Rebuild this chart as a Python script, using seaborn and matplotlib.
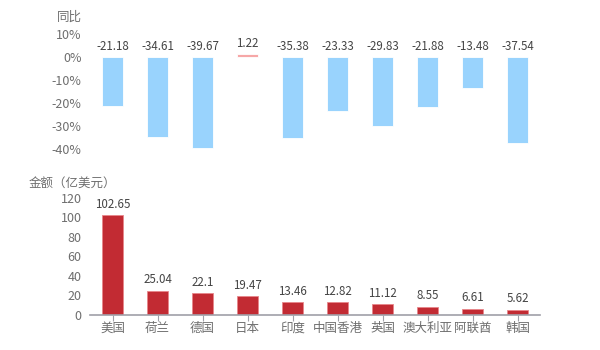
import matplotlib
matplotlib.use("Agg")
import matplotlib.pyplot as plt
import seaborn as sns
import pandas as pd

# data
countries = ["美国", "荷兰", "德国", "日本", "印度", "中国香港", "英国", "澳大利亚", "阿联酋", "韩国"]
yoy = [-21.18, -34.61, -39.67, 1.22, -35.38, -23.33, -29.83, -21.88, -13.48, -37.54]
amount = [102.65, 25.04, 22.1, 19.47, 13.46, 12.82, 11.12, 8.55, 6.61, 5.62]

sns.set_theme(style="white")
plt.rcParams['font.family'] = ['Noto Sans CJK SC', 'DejaVu Sans']

tick_color = "#6e6e6e"
label_color = "#444444"
blue = "#99d3fd"
pink = "#f6a7a7"
red = "#c22b33"

df = pd.DataFrame({"country": countries, "yoy": yoy, "amount": amount})

fig = plt.figure(figsize=(6, 3.5), dpi=100)
ax1 = fig.add_axes([0.15, 0.5743, 0.75, 0.3286])
ax2 = fig.add_axes([0.15, 0.10, 0.75, 0.3343])

# top: year-on-year change
top_colors = [pink if v > 0 else blue for v in yoy]
sns.barplot(data=df, x="country", y="yoy", hue="country", palette=top_colors,
            legend=False, width=0.45, saturation=1, ax=ax1,
            edgecolor="#ffffff", linewidth=0.6)
ax1.set_ylim(-40, 10)
ax1.set_xlim(-0.5, len(countries) - 0.5)
ax1.set_yticks([10, 0, -10, -20, -30, -40])
ax1.set_yticklabels([f"{t}%" for t in [10, 0, -10, -20, -30, -40]])
ax1.set_xticks([])
ax1.set_xlabel("")
ax1.set_ylabel("")
for s in ax1.spines.values():
    s.set_visible(False)
ax1.tick_params(axis="y", colors=tick_color, labelsize=9, length=0, pad=6)
for i, v in enumerate(yoy):
    ax1.annotate(f"{v:g}" if v > 0 else f"{v:.2f}", (i, max(v, 0)), xytext=(0, 3),
                 textcoords="offset points", ha="center", va="bottom",
                 fontsize=8.3, color=label_color)
fig.text(0.137, 0.95, "同比", ha="right", va="center", fontsize=9, color=tick_color)

# bottom: amount
sns.barplot(data=df, x="country", y="amount", color=red, width=0.45, saturation=1,
            ax=ax2, edgecolor="#e8868a", linewidth=0.6)
ax2.set_ylim(0, 120)
ax2.set_xlim(-0.5, len(countries) - 0.5)
ax2.set_yticks(range(0, 121, 20))
ax2.set_xlabel("")
ax2.set_ylabel("")
for name in ["top", "right", "left"]:
    ax2.spines[name].set_visible(False)
ax2.spines["bottom"].set_color("#a0a0a8")
ax2.spines["bottom"].set_linewidth(1.2)
ax2.tick_params(axis="y", colors=tick_color, labelsize=9, length=0, pad=6)
ax2.tick_params(axis="x", colors="#a0a0a8", labelcolor=tick_color, labelsize=9,
                length=4, width=0.8, direction="out", bottom=True, pad=1)
for i, v in enumerate(amount):
    ax2.annotate(f"{v:g}", (i, v), xytext=(0, 3), textcoords="offset points",
                 ha="center", va="bottom", fontsize=8.3, color=label_color)
fig.text(0.047, 0.477, "金额（亿美元）", ha="left", va="center", fontsize=9, color=tick_color)

fig.savefig("out.png", dpi=100)
